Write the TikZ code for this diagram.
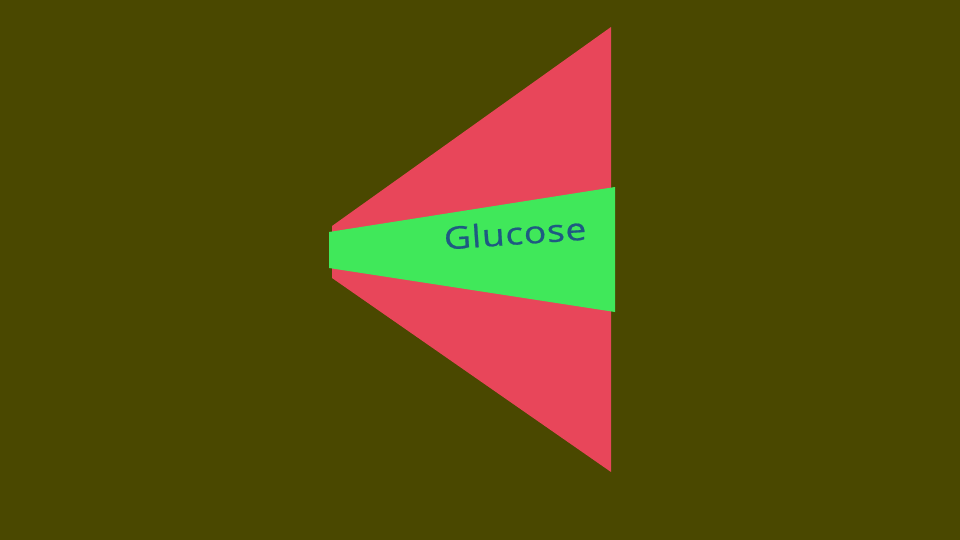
\documentclass[tikz,border=0pt]{standalone}
\usepackage{fontspec}
\setmainfont{Open Sans}
\definecolor{bgc}{RGB}{74,72,0}
\definecolor{redc}{RGB}{232,70,90}
\definecolor{greenc}{RGB}{64,232,90}
\definecolor{textc}{RGB}{30,90,130}
\begin{document}
\begin{tikzpicture}[x=1pt,y=-1pt]
\fill[bgc] (0,0) rectangle (960,540);
\useasboundingbox (0,0) rectangle (960,540);
\coordinate (rt) at (611,27);
\coordinate (rb) at (611,472);
\coordinate (lt) at (332,226);
\coordinate (lb) at (332,278);
\fill[redc] (rt) -- (lt) -- (lb) -- (rb) -- cycle;
\coordinate (gtl) at (329,232);
\coordinate (gtr) at (615,187);
\coordinate (gbr) at (615,312);
\coordinate (gbl) at (329,268);
\fill[greenc] (gtl) -- (gtr) -- (gbr) -- (gbl) -- cycle;
\node[text=textc, rotate=4, font=\fontsize{31}{34}\selectfont\addfontfeatures{LetterSpace=2,FakeBold=0.6}, inner sep=0pt] (glu) at (515,233) {\scalebox{1.2}[1]{Glucose}};
\end{tikzpicture}
\end{document}
